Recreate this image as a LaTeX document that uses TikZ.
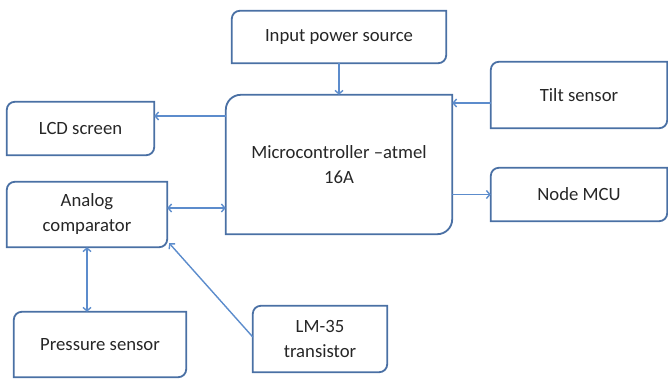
\documentclass[tikz,border=0pt]{standalone}
\usepackage{fontspec}
\setmainfont{Carlito}
\usetikzlibrary{arrows.meta}

\definecolor{boxblue}{RGB}{74,112,164}
\definecolor{arrowblue}{RGB}{92,140,204}

% contour avec coins arrondis en diagonale (haut-gauche, bas-droite)
\newcommand{\blockoutline}[2]{%
    \draw[blk_line] ([yshift=-#2]#1.north west) arc[start angle=180, end angle=90, radius=#2]
        -- (#1.north east) -- ([yshift=#2]#1.south east)
        arc[start angle=0, end angle=-90, radius=#2] -- (#1.south west) -- cycle;}

\begin{document}
\begin{tikzpicture}[x=1pt, y=1pt, >={Straight Barb[length=3.5pt,width=8pt]}]
        % --- Styles ---
        \tikzset{
            blk/.style={inner sep=0pt, align=center, font=\fontsize{18.7}{25}\selectfont, text=black!85},
            blk_line/.style={draw=boxblue, line width=1.8pt},
            link/.style={draw=arrowblue, line width=1.4pt}
        }
        \useasboundingbox (0,0) rectangle (668,378);

        % Blocs
        \node[blk, minimum width=214, minimum height=52] (power) at (339,341) {Input power source};
        \node[blk, minimum width=226, minimum height=139] (micro) at (339,213.5) {Microcontroller --atmel\\16A};
        \node[blk, minimum width=147, minimum height=53] (lcd) at (80.5,249.5) {LCD screen};
        \node[blk, minimum width=176, minimum height=66] (tilt) at (579,283) {Tilt sensor};
        \node[blk, minimum width=176, minimum height=53] (mcu) at (579,183.5) {Node MCU};
        \node[blk, minimum width=160, minimum height=65] (analog) at (87,163.5) {Analog\\comparator};
        \node[blk, minimum width=172, minimum height=65] (pressure) at (100,33.5) {Pressure sensor};
        \node[blk, minimum width=134, minimum height=66] (lm35) at (320,39) {LM-35\\transistor};

        % Contours
        \foreach \b in {power,lcd,tilt,mcu,analog,pressure,lm35} {\blockoutline{\b}{8pt}}
        \blockoutline{micro}{15pt}

        % Points d'attache
        \coordinate (lcdIn) at ([yshift=12.5pt]lcd.east);
        \coordinate (tiltOut) at ([yshift=-8pt]tilt.west);
        \coordinate (analogEnd) at ([yshift=6.5pt]analog.east);

        % Liaisons
        \draw[link, ->] (power.south) -- (micro.north);
        \draw[link, ->] (lcdIn -| micro.west) -- (lcdIn);
        \draw[link, ->] (tiltOut) -- (tiltOut -| micro.east);
        \draw[link, ->] (mcu.west -| micro.east) -- (mcu.west);
        \draw[link, <->] (analogEnd) -- (analogEnd -| micro.west);
        \draw[link, <->] (analog.south) -- (analog.south |- pressure.north);
        \draw[link, ->] ([yshift=2pt]lm35.west) -- ([shift={(2pt,4pt)}]analog.south east);

    \end{tikzpicture}
\end{document}
